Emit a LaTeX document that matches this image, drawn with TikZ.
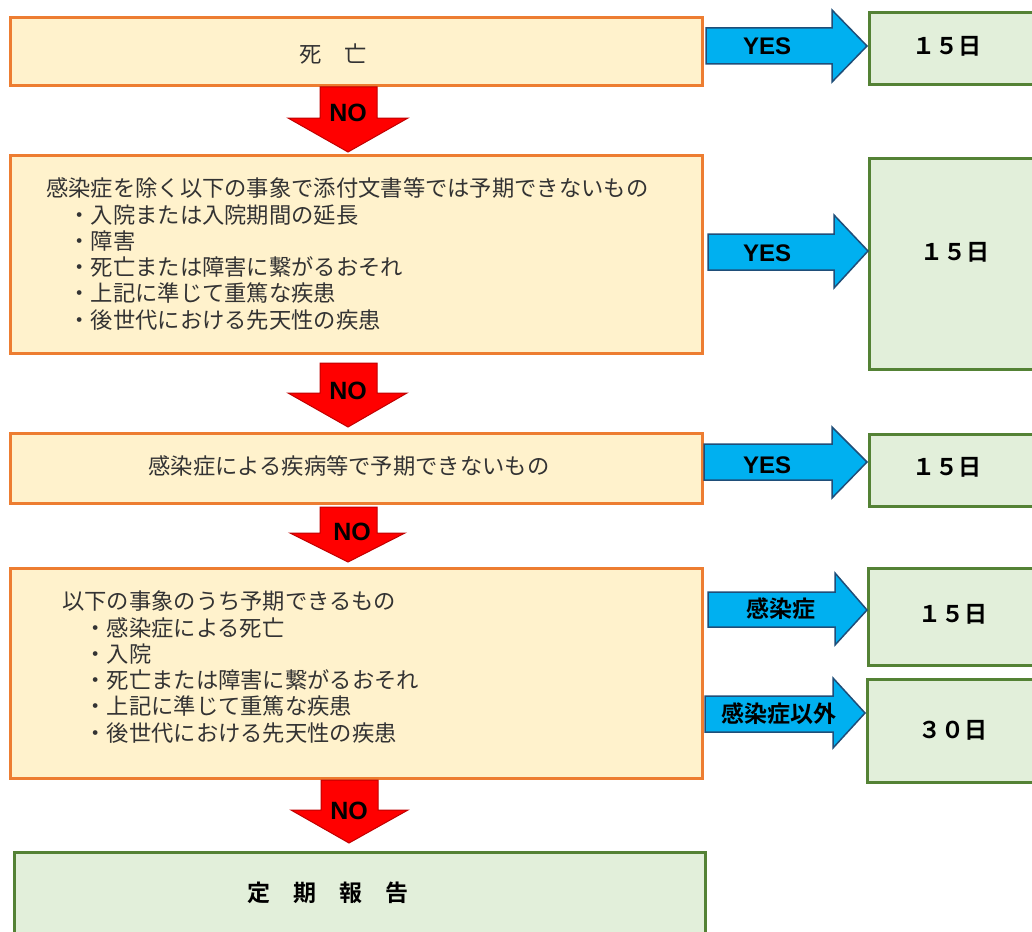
\documentclass[tikz,border=0pt]{standalone}
\usepackage{fontspec}
\setmainfont{Noto Sans CJK JP}
\newfontfamily\jpb{Noto Sans CJK JP Bold}
\newfontfamily\latb{Liberation Sans}[BoldFont={* Bold}]
\definecolor{cream}{HTML}{FFF2CC}
\definecolor{orangeB}{HTML}{ED7D31}
\definecolor{lgreen}{HTML}{E2EFDA}
\definecolor{greenB}{HTML}{548235}
\definecolor{arrblue}{HTML}{00B0F0}
\definecolor{arrblueB}{HTML}{1F4E79}
\definecolor{arrred}{HTML}{FF0000}
\definecolor{arrredB}{HTML}{C00000}
\definecolor{txtgray}{HTML}{333333}
\begin{document}
\begin{tikzpicture}[x=1pt,y=-1pt,
  obox/.style={draw=orangeB, fill=cream, line width=3pt, inner sep=0pt, anchor=north west},
  gbox/.style={draw=greenB, fill=lgreen, line width=3pt, inner sep=0pt, anchor=north west},
  maintxt/.style={inner sep=0pt, text=txtgray, font=\fontsize{22.3}{26.3}\selectfont, align=left},
  daytxt/.style={inner sep=0pt, text=black, font=\jpb\fontsize{23}{26}\selectfont},
  bluearr/.style={fill=arrblue, draw=arrblueB, line width=1.5pt, line join=miter},
  redarr/.style={fill=arrred, draw=arrredB, line width=1pt, line join=miter},
  yeslbl/.style={inner sep=0pt, text=black, font=\latb\bfseries\fontsize{24}{26}\selectfont},
  nolbl/.style={inner sep=0pt, text=black, font=\latb\bfseries\fontsize{25}{26}\selectfont},
  jplbl/.style={inner sep=0pt, text=black, font=\jpb\fontsize{23}{26}\selectfont}]
\clip (0,0) rectangle (1032,931);
\fill[white] (0,0) rectangle (1032,931);

% left boxes
\node[obox, minimum width=692pt, minimum height=68pt] (b1) at (9,16) {};
\node[obox, minimum width=692pt, minimum height=198pt] (b2) at (9,154) {};
\node[obox, minimum width=692pt, minimum height=70pt] (b3) at (9,432) {};
\node[obox, minimum width=692pt, minimum height=210pt] (b4) at (9,567) {};
\node[gbox, minimum width=691pt, minimum height=100pt] (b5) at (13,851) {};

\node[maintxt] (t1) at (333,54) {死　亡};
\node[maintxt, anchor=west] (t2) at (46,254) {感染症を除く以下の事象で添付文書等では予期できないもの\\
　・入院または入院期間の延長\\
　・障害\\
　・死亡または障害に繋がるおそれ\\
　・上記に準じて重篤な疾患\\
　・後世代における先天性の疾患};
\node[maintxt] (t3) at (349,466) {感染症による疾病等で予期できないもの};
\node[maintxt, anchor=west] (t4) at (62,667) {以下の事象のうち予期できるもの\\
　・感染症による死亡\\
　・入院\\
　・死亡または障害に繋がるおそれ\\
　・上記に準じて重篤な疾患\\
　・後世代における先天性の疾患};
\node[daytxt] (t5) at (328,893) {定　期　報　告};

% right boxes
\node[gbox, minimum width=180pt, minimum height=72pt] (r1) at (868,11) {};
\node[gbox, minimum width=180pt, minimum height=211pt] (r2) at (868,157) {};
\node[gbox, minimum width=180pt, minimum height=72pt] (r3) at (868,433) {};
\node[gbox, minimum width=180pt, minimum height=97pt] (r4) at (867,567) {};
\node[gbox, minimum width=180pt, minimum height=103pt] (r5) at (866,678) {};

\node[daytxt] (d1) at (947,46) {１５日};
\node[daytxt] (d2) at (955,252) {１５日};
\node[daytxt] (d3) at (947,467) {１５日};
\node[daytxt] (d4) at (953,614) {１５日};
\node[daytxt] (d5) at (953,730) {３０日};

% blue arrows
\draw[bluearr] (706,28) -- (832,28) -- (832,10) -- (867,46) -- (832,82) -- (832,64) -- (706,64) -- cycle;
\draw[bluearr] (708,234) -- (834,234) -- (834,215) -- (868,251) -- (834,288) -- (834,270) -- (708,270) -- cycle;
\draw[bluearr] (704,444) -- (832,444) -- (832,427) -- (867,462) -- (832,498) -- (832,480) -- (704,480) -- cycle;
\draw[bluearr] (708,592) -- (835,592) -- (835,573) -- (867,610) -- (835,645) -- (835,627) -- (708,627) -- cycle;
\draw[bluearr] (705,696) -- (833,696) -- (833,678) -- (865,713) -- (833,748) -- (833,732) -- (705,732) -- cycle;

\node[yeslbl] (y1) at (767,46) {YES};
\node[yeslbl] (y2) at (767,253) {YES};
\node[yeslbl] (y3) at (767,465) {YES};
\node[jplbl] (y4) at (781,609) {感染症};
\node[jplbl] (y5) at (779,714) {感染症以外};

% red arrows
\draw[redarr] (320,87) -- (377,87) -- (377,118) -- (408,118) -- (348,152) -- (288,118) -- (320,118) -- cycle;
\draw[redarr] (320,363) -- (377,363) -- (377,393) -- (407,393) -- (348,427) -- (288,393) -- (320,393) -- cycle;
\draw[redarr] (320,507) -- (377,507) -- (377,533) -- (405,533) -- (348,562) -- (290,533) -- (320,533) -- cycle;
\draw[redarr] (321,780) -- (378,780) -- (378,810) -- (408,810) -- (349,843) -- (291,810) -- (321,810) -- cycle;

\node[nolbl] (n1) at (348,113) {NO};
\node[nolbl] (n2) at (348,391) {NO};
\node[nolbl] (n3) at (352,532) {NO};
\node[nolbl] (n4) at (349,811) {NO};
\end{tikzpicture}
\end{document}
